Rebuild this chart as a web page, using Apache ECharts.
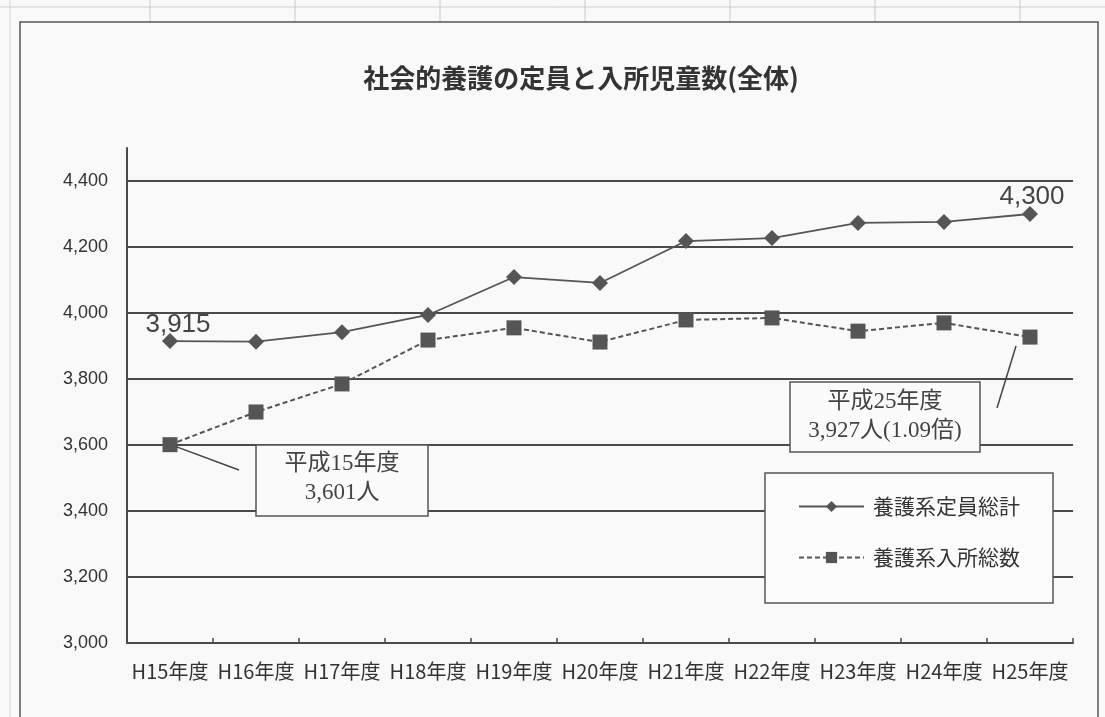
<!DOCTYPE html>
<html lang="ja">
<head>
<meta charset="utf-8">
<title>社会的養護の定員と入所児童数(全体)</title>
<script src="https://cdn.jsdelivr.net/npm/echarts@6/dist/echarts.min.js"></script>
<style>
  html, body { margin: 0; padding: 0; background: #f9f9f9; }
  #chart { width: 1105px; height: 717px; }
</style>
</head>
<body>
<div id="chart"></div>
<script>
// 年度ごとの定員総計と入所総数
const years = ['H15年度', 'H16年度', 'H17年度', 'H18年度', 'H19年度', 'H20年度',
               'H21年度', 'H22年度', 'H23年度', 'H24年度', 'H25年度'];
const capacity = [3915, 3913, 3942, 3994, 4109, 4091, 4218, 4227, 4273, 4276, 4300];
const admitted = [3601, 3700, 3785, 3918, 3955, 3912, 3979, 3985, 3945, 3970, 3927];
const seriesNames = ['養護系定員総計', '養護系入所総数'];
const titleText = '社会的養護の定員と入所児童数(全体)';
const yMin = 3000, yMax = 4500, yStep = 200;

const INK = '#4a4a4a';
const JP = '"Noto Sans CJK JP", "Noto Sans", sans-serif';
const SERIF = '"Liberation Serif", "Noto Sans CJK JP", serif';
const fmt = v => v.toLocaleString('en-US');

const last = years.length - 1;
const capacityData = capacity.map((v, i) => {
  if (i === 0 || i === last) {
    return {
      value: v,
      label: { show: true, position: 'top', distance: 4, offset: i === 0 ? [8, 9] : [2, 8] }
    };
  }
  return v;
});

const chart = echarts.init(document.getElementById('chart'), null, { renderer: 'canvas' });

const option = {
  backgroundColor: '#f9f9f9',
  animation: false,
  grid: { left: 127, right: 32, top: 148, bottom: 74, containLabel: false },
  xAxis: {
    type: 'category',
    data: years,
    boundaryGap: true,
    axisLine: { lineStyle: { color: INK, width: 2 } },
    axisTick: { show: true, inside: true, length: 5, interval: 0, lineStyle: { color: INK, width: 1.5 } },
    axisLabel: { interval: 0, color: '#333', fontFamily: JP, fontSize: 20, margin: 18 },
    splitLine: { show: false }
  },
  yAxis: {
    type: 'value',
    min: yMin,
    max: yMax,
    interval: yStep,
    axisLine: { show: true, lineStyle: { color: INK, width: 2 } },
    axisTick: { show: false },
    axisLabel: {
      color: '#333', fontFamily: '"Liberation Sans", Arial, sans-serif', fontSize: 18,
      margin: 19, showMaxLabel: false,
      formatter: v => fmt(v)
    },
    splitLine: { show: true, showMinLine: false, showMaxLine: false, lineStyle: { color: INK, width: 2 } }
  },
  legend: {
    orient: 'vertical',
    left: 793,
    top: 491,
    itemWidth: 65,
    itemHeight: 14,
    itemGap: 30,
    textStyle: { color: '#333', fontFamily: JP, fontSize: 21, padding: [0, 0, 0, 4] },
    data: seriesNames
  },
  series: [
    {
      name: seriesNames[0],
      type: 'line',
      data: capacityData,
      symbol: 'diamond',
      symbolSize: 16,
      itemStyle: { color: '#555' },
      lineStyle: { color: '#555', width: 1.8, type: 'solid' },
      label: {
        show: false,
        color: '#444',
        fontFamily: '"Liberation Sans", Arial, sans-serif',
        fontSize: 26,
        formatter: p => fmt(p.value)
      },
      z: 3
    },
    {
      name: seriesNames[1],
      type: 'line',
      data: admitted,
      symbol: 'rect',
      symbolSize: 15,
      itemStyle: { color: '#555' },
      lineStyle: { color: '#555', width: 2, type: [5, 3] },
      z: 3
    }
  ]
};

chart.setOption(option);

// 注記ボックス・凡例枠・外枠
const p0 = chart.convertToPixel({ seriesIndex: 1 }, [0, admitted[0]]);
const p1 = chart.convertToPixel({ seriesIndex: 1 }, [last, admitted[last]]);
const ratio = (admitted[last] / admitted[0]).toFixed(2);

const calloutText = {
  fill: '#444', font: '23px ' + SERIF, align: 'center', verticalAlign: 'middle', lineHeight: 29
};

const sheetLines = [150, 295, 440, 585, 730, 875, 1020].map(x => ({
  type: 'line', silent: true, z: 0,
  shape: { x1: x, y1: 0, x2: x, y2: 22 },
  style: { stroke: '#c8c8c8', lineWidth: 1 }
}));

chart.setOption({
  graphic: [
    { type: 'line', silent: true, z: 0, shape: { x1: 0, y1: 7, x2: 1105, y2: 7 }, style: { stroke: '#cfcfcf', lineWidth: 1 } },
    { type: 'line', silent: true, z: 0, shape: { x1: 10, y1: 0, x2: 10, y2: 717 }, style: { stroke: '#d4d4d4', lineWidth: 1 } },
    ...sheetLines,
    { type: 'rect', silent: true, z: 0, shape: { x: 20, y: 22, width: 1078, height: 720 }, style: { fill: 'none', stroke: '#555', lineWidth: 1.5 } },
    {
      type: 'text', silent: true, z: 10,
      x: 581, y: 78,
      style: { text: titleText, fill: '#333', font: 'bold 26px ' + JP, align: 'center', verticalAlign: 'middle' }
    },
    // 平成15年度の注記
    {
      type: 'line', silent: true, z: 5,
      shape: { x1: p0[0] + 6, y1: p0[1] + 2, x2: 239, y2: 470 },
      style: { stroke: '#444', lineWidth: 1.5 }
    },
    {
      type: 'rect', silent: true, z: 6,
      shape: { x: 256, y: 445, width: 172, height: 71 },
      style: { fill: '#fbfbfb', stroke: '#555', lineWidth: 1.5 }
    },
    {
      type: 'text', silent: true, z: 7, x: 342, y: 478,
      style: Object.assign({ text: '平成15年度\n' + fmt(admitted[0]) + '人' }, calloutText)
    },
    // 平成25年度の注記
    {
      type: 'line', silent: true, z: 5,
      shape: { x1: p1[0] - 14, y1: p1[1] + 9, x2: 997, y2: 408 },
      style: { stroke: '#444', lineWidth: 1.5 }
    },
    {
      type: 'rect', silent: true, z: 6,
      shape: { x: 790, y: 382, width: 190, height: 70 },
      style: { fill: '#fbfbfb', stroke: '#555', lineWidth: 1.5 }
    },
    {
      type: 'text', silent: true, z: 7, x: 885, y: 416,
      style: Object.assign({ text: '平成25年度\n' + fmt(admitted[last]) + '人(' + ratio + '倍)' }, calloutText)
    },
    // 凡例の枠
    {
      type: 'rect', silent: true, z: 1,
      shape: { x: 765, y: 473, width: 288, height: 130 },
      style: { fill: '#fcfcfc', stroke: '#555', lineWidth: 1.5 }
    }
  ]
});
</script>
</body>
</html>
